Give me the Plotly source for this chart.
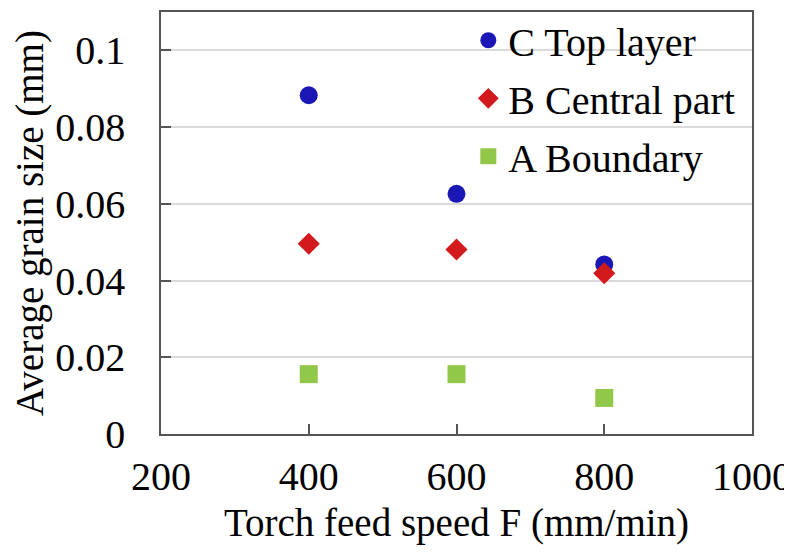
import plotly.graph_objects as go

# feed speed (mm/min)
speed = [400, 600, 800]

# average grain size (mm) per region
top_layer = [0.0883, 0.0626, 0.0442]
central_part = [0.0496, 0.0481, 0.0419]
boundary = [0.0156, 0.0156, 0.0094]

y_ticks = [0, 0.02, 0.04, 0.06, 0.08, 0.1]
y_labels = ["0", "0.02", "0.04", "0.06", "0.08", "0.1"]

FONT = "Liberation Serif"

fig = go.Figure()
fig.add_trace(go.Scatter(x=speed, y=top_layer, mode="markers", name="C Top layer",
                         legendgroup="c",
                         marker=dict(symbol="circle", size=18, color="#1b17b5")))
fig.add_trace(go.Scatter(x=speed, y=central_part, mode="markers", name="B Central part",
                         legendgroup="b",
                         marker=dict(symbol="diamond", size=17, color="#d2191c")))
fig.add_trace(go.Scatter(x=speed, y=boundary, mode="markers", name="A Boundary",
                         legendgroup="a",
                         marker=dict(symbol="square", size=18, color="#92c84a")))

# page body adds an 8px offset, so margins are shifted by that amount
fig.update_layout(
    width=792, height=557,
    margin=dict(l=153, r=48, t=4, b=131, autoexpand=False),
    plot_bgcolor="white", paper_bgcolor="white",
    font=dict(family=FONT, size=40, color="black"),
    legend=dict(x=0.52, y=1.01, xanchor="left", yanchor="top",
                bgcolor="rgba(0,0,0,0)", font=dict(size=40),
                tracegroupgap=3, itemwidth=30),
    showlegend=True,
)
fig.update_xaxes(
    range=[200, 1000], dtick=200, showgrid=False, automargin=False,
    ticks="inside", ticklen=10, tickcolor="#555", tickwidth=1.5,
    showline=True, linecolor="#555", linewidth=1.5, mirror=True,
    ticklabelstandoff=6,
    tickfont=dict(size=40), title=dict(text="Torch feed speed F (mm/min)",
                                       font=dict(size=39), standoff=11),
)
fig.update_yaxes(
    range=[0, 0.11], tickvals=y_ticks, ticktext=y_labels, automargin=False,
    showgrid=True, gridcolor="#dadada", gridwidth=1.5,
    ticks="inside", ticklen=10, tickcolor="#555", tickwidth=1.5,
    showline=True, linecolor="#555", linewidth=1.5, mirror=True,
    zeroline=False, ticklabelstandoff=26,
    tickfont=dict(size=40), title=dict(text="Average grain size (mm)",
                                       font=dict(size=39), standoff=2),
)

fig.write_html("out.html")
